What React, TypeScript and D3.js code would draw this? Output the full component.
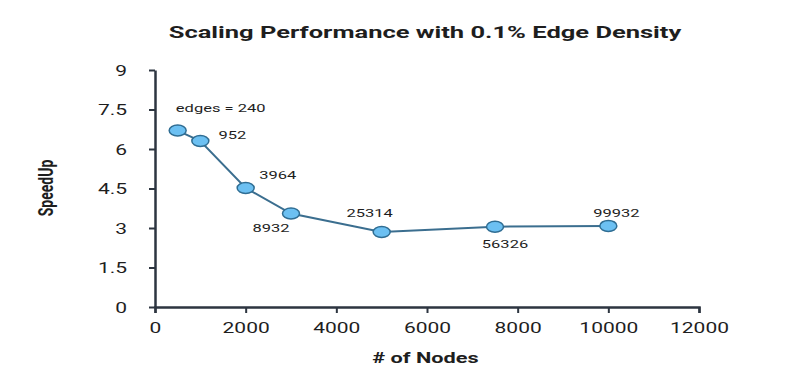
import React, { useEffect, useRef } from "react";
import * as d3 from "d3";

const nodes = [500, 1000, 2000, 3000, 5000, 7500, 10000];
const speedup = [6.7, 6.3, 4.52, 3.55, 2.85, 3.05, 3.08];
const edgeLabels = ["edges = 240", "952", "3964", "8932", "25314", "56326", "99932"];
const xTicks = [0, 2000, 4000, 6000, 8000, 10000, 12000];
const yTicks = [0, 1.5, 3, 4.5, 6, 7.5, 9];
const labelOffsets: [number, number][] = [
  [43, -22], [32, -6], [32, -13], [-20, 15], [-12, -19], [10, 17], [8, -13],
];

const W = 793, H = 392;
const M = { left: 155, right: 94, top: 70, bottom: 85 };
const SX = 1.5; // horizontal stretch of the reference's glyphs

export default function App() {
  const ref = useRef<SVGSVGElement>(null);
  useEffect(() => {
    const svg = d3.select(ref.current);
    svg.selectAll("*").remove();
    const x = d3.scaleLinear().domain([0, 12000]).range([M.left, W - M.right]);
    const y = d3.scaleLinear().domain([0, 9]).range([H - M.bottom, M.top]);
    const font = "Roboto, sans-serif";
    const axisColor = "#2d3540";
    const ink = "#1e1e1e";

    const gx = svg.append("g").attr("transform", `translate(0,${H - M.bottom})`)
      .call(d3.axisBottom(x).tickValues(xTicks).tickFormat(d3.format("d")).tickSize(6).tickSizeOuter(6));
    const gy = svg.append("g").attr("transform", `translate(${M.left},0)`)
      .call(d3.axisLeft(y).tickValues(yTicks).tickFormat((d) => String(d)).tickSize(6).tickSizeOuter(0));
    [gx, gy].forEach((g) => {
      g.select(".domain").attr("stroke", axisColor).attr("stroke-width", 2.5);
      g.selectAll(".tick line").attr("stroke", axisColor).attr("stroke-width", 2);
      g.selectAll(".tick text").attr("fill", ink).attr("font-family", font).attr("font-size", 14);
    });
    gx.selectAll(".tick text").attr("y", 0).attr("dy", null).attr("dominant-baseline", "auto")
      .attr("transform", `translate(0,26) scale(${SX},1)`);
    gy.selectAll(".tick text").attr("x", 0).attr("dy", null).attr("dominant-baseline", "central")
      .attr("transform", `translate(-28,0) scale(${SX},1)`);

    const data = nodes.map((n, i) => ({ n, s: speedup[i], l: edgeLabels[i], o: labelOffsets[i] }));
    const line = d3.line<any>().x((d) => x(d.n)).y((d) => y(d.s));
    svg.append("path").datum(data).attr("d", line).attr("fill", "none")
      .attr("stroke", "#3b6e8f").attr("stroke-width", 2);
    svg.selectAll("ellipse.pt").data(data).enter().append("ellipse")
      .attr("cx", (d) => x(d.n)).attr("cy", (d) => y(d.s)).attr("rx", 8.5).attr("ry", 5.5)
      .attr("fill", "#6cc0f2").attr("stroke", "#2f6d93").attr("stroke-width", 1.5);
    svg.selectAll("text.lbl").data(data).enter().append("text")
      .attr("transform", (d) => `translate(${x(d.n) + d.o[0]},${y(d.s) + d.o[1]}) scale(${SX},1)`)
      .attr("text-anchor", "middle").attr("dominant-baseline", "central")
      .attr("font-family", font).attr("font-size", 11).attr("fill", ink).text((d) => d.l);

    svg.append("text").attr("transform", `translate(425,32) scale(${SX},1)`).attr("text-anchor", "middle")
      .attr("dominant-baseline", "central").attr("font-family", font).attr("font-weight", "bold")
      .attr("font-size", 17).attr("fill", ink)
      .text("Scaling Performance with 0.1% Edge Density");
    svg.append("text").attr("transform", `translate(425.5,358) scale(${SX},1)`).attr("text-anchor", "middle")
      .attr("dominant-baseline", "central").attr("font-family", font).attr("font-weight", "bold")
      .attr("font-size", 14.5).attr("fill", ink).text("# of Nodes");
    svg.append("text").attr("transform", `translate(45,188) scale(${SX},1) rotate(-90)`).attr("text-anchor", "middle")
      .attr("dominant-baseline", "central").attr("font-family", font).attr("font-weight", "bold")
      .attr("font-size", 14).attr("fill", ink)
      .text("SpeedUp");
  }, []);
  return (
    <svg ref={ref} width={W} height={H} style={{ position: "absolute", left: 0, top: 0, background: "#fff" }} />
  );
}
